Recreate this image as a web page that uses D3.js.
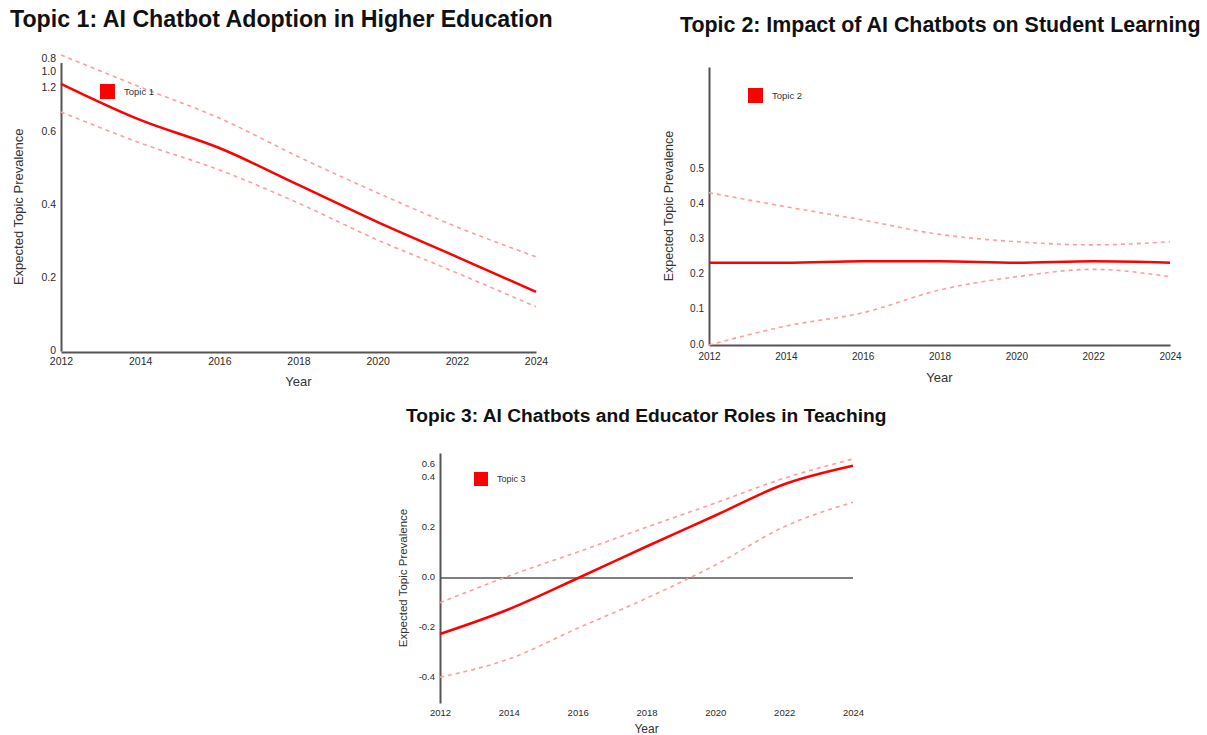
<!DOCTYPE html>
<html>
<head>
<meta charset="utf-8">
<script src="https://cdn.jsdelivr.net/npm/d3@7"></script>
<style>
  body { margin: 0; background: #fff; }
  text { font-family: "Liberation Sans", Arial, sans-serif; }
</style>
</head>
<body>
<script>
const W = 1207, H = 735;

// years on the x axis
const years = [2012, 2014, 2016, 2018, 2020, 2022, 2024];

// Topic 1: mean and 95% band
const topic1Mean  = [0.732, 0.633, 0.556, 0.455, 0.353, 0.258, 0.162];
const topic1Upper = [0.811, 0.723, 0.638, 0.532, 0.433, 0.340, 0.258];
const topic1Lower = [0.655, 0.570, 0.496, 0.405, 0.304, 0.214, 0.121];
// the y labels are printed out of order in the source picture
const topic1TickValues = [0, 0.2, 0.4, 0.6, 0.72, 0.764, 0.8];
const topic1TickLabels = ["0", "0.2", "0.4", "0.6", "1.2", "1.0", "0.8"];

// Topic 2
const topic2Mean  = [0.235, 0.235, 0.239, 0.239, 0.235, 0.239, 0.235];
const topic2Upper = [0.435, 0.395, 0.357, 0.316, 0.295, 0.286, 0.295];
const topic2Lower = [0.000, 0.054, 0.092, 0.157, 0.195, 0.216, 0.195];
const topic2TickValues = [0, 0.1, 0.2, 0.3, 0.4, 0.5];
const topic2TickLabels = ["0.0", "0.1", "0.2", "0.3", "0.4", "0.5"];

// Topic 3
const topic3Mean  = [-0.224, -0.125, -0.001, 0.126, 0.250, 0.375, 0.449];
const topic3Upper = [-0.099, 0.008, 0.104, 0.203, 0.300, 0.399, 0.476];
const topic3Lower = [-0.397, -0.324, -0.201, -0.081, 0.052, 0.205, 0.303];
const topic3TickValues = [-0.4, -0.2, 0, 0.2, 0.4, 0.452];
const topic3TickLabels = ["-0.4", "-0.2", "0.0", "0.2", "0.4", "0.6"];

const svg = d3.select("body").append("svg")
    .attr("width", W).attr("height", H);

const panels = [
  {
    title: "Topic 1: AI Chatbot Adoption in Higher Education", titleX: 10, titleY: 27, titleSize: 23.2,
    name: "Topic 1", mean: topic1Mean, upper: topic1Upper, lower: topic1Lower,
    tickValues: topic1TickValues, tickLabels: topic1TickLabels,
    x0: 61, x1: 536, yDomain: [0, 0.79], yRange: [351, 62.6],
    xAxisY: 352, xLabelGap: 10, xFont: 10.5, yFont: 10.5, yLabelGap: 5,
    yTitleX: 18, yTitleSize: 13, xTitleY: 386, xTitleSize: 13,
    legendX: 100, legendY: 84, legendSize: 15, legendFont: 9.5,
    zeroLine: false
  },
  {
    title: "Topic 2: Impact of AI Chatbots on Student Learning", titleX: 680, titleY: 32, titleSize: 21.4,
    name: "Topic 2", mean: topic2Mean, upper: topic2Upper, lower: topic2Lower,
    tickValues: topic2TickValues, tickLabels: topic2TickLabels,
    x0: 709, x1: 1170, yDomain: [0, 0.794], yRange: [345, 67],
    xAxisY: 345, xLabelGap: 12, xFont: 10, yFont: 10, yLabelGap: 5,
    yTitleX: 669, yTitleSize: 12.5, xTitleY: 382, xTitleSize: 13,
    legendX: 748, legendY: 88, legendSize: 15, legendFont: 9.5,
    zeroLine: false
  },
  {
    title: "Topic 3: AI Chatbots and Educator Roles in Teaching", titleX: 406, titleY: 422, titleSize: 19.2,
    name: "Topic 3", mean: topic3Mean, upper: topic3Upper, lower: topic3Lower,
    tickValues: topic3TickValues, tickLabels: topic3TickLabels,
    x0: 440, x1: 853, yDomain: [-0.5, 0.5], yRange: [703, 453],
    xAxisY: 703, xLabelGap: 10, xFont: 9.5, yFont: 9.5, yLabelGap: 5,
    yTitleX: 403, yTitleSize: 11.5, xTitleY: 733, xTitleSize: 12,
    legendX: 474, legendY: 472, legendSize: 14, legendFont: 9,
    zeroLine: true
  }
];

panels.forEach(p => {
  const g = svg.append("g");

  const x = d3.scaleLinear().domain([2012, 2024]).range([p.x0, p.x1]);
  const y = d3.scaleLinear().domain(p.yDomain).range(p.yRange);

  g.append("text")
      .attr("x", p.titleX).attr("y", p.titleY)
      .attr("font-size", p.titleSize).attr("font-weight", "bold")
      .attr("fill", "#111")
      .text(p.title);

  // y axis
  const yAxis = d3.axisLeft(y)
      .tickValues(p.tickValues)
      .tickFormat((d, i) => p.tickLabels[i])
      .tickSize(0).tickSizeOuter(0).tickPadding(p.yLabelGap);
  const ya = g.append("g").attr("transform", `translate(${p.x0},0)`).call(yAxis);
  ya.select(".domain").attr("stroke", "#555").attr("stroke-width", 2);
  ya.selectAll("text").attr("font-size", p.yFont).attr("fill", "#2a2a2a")
      .attr("font-family", "Liberation Sans, Arial, sans-serif").attr("dy", "0.2em");

  // x axis
  const xAxis = d3.axisBottom(x)
      .tickValues(years)
      .tickFormat(d3.format("d"))
      .tickSize(0).tickSizeOuter(0).tickPadding(p.xLabelGap - 4);
  const xa = g.append("g").attr("transform", `translate(0,${p.xAxisY})`).call(xAxis);
  if (p.zeroLine) {
    xa.select(".domain").remove();
  } else {
    xa.select(".domain").attr("stroke", "#555").attr("stroke-width", 2);
  }
  xa.selectAll("text").attr("font-size", p.xFont).attr("fill", "#2a2a2a")
      .attr("font-family", "Liberation Sans, Arial, sans-serif");

  if (p.zeroLine) {
    g.append("line")
        .attr("x1", x(2012)).attr("x2", x(2024))
        .attr("y1", y(0)).attr("y2", y(0))
        .attr("stroke", "#555").attr("stroke-width", 1.6);
  }

  // axis titles
  g.append("text")
      .attr("x", (p.x0 + p.x1) / 2).attr("y", p.xTitleY)
      .attr("text-anchor", "middle")
      .attr("font-size", p.xTitleSize).attr("fill", "#333")
      .text("Year");
  const midY = (p.yRange[0] + p.yRange[1]) / 2;
  g.append("text")
      .attr("transform", `translate(${p.yTitleX},${midY}) rotate(-90)`)
      .attr("text-anchor", "middle")
      .attr("dy", "0.35em")
      .attr("font-size", p.yTitleSize).attr("fill", "#333")
      .text("Expected Topic Prevalence");

  // lines
  const line = d3.line()
      .x((d, i) => x(years[i]))
      .y(d => y(d))
      .curve(d3.curveMonotoneX);

  [p.upper, p.lower].forEach(band => {
    g.append("path")
        .attr("d", line(band))
        .attr("fill", "none")
        .attr("stroke", "#ff9c9c")
        .attr("stroke-width", 1.6)
        .attr("stroke-dasharray", "4,4");
  });
  g.append("path")
      .attr("d", line(p.mean))
      .attr("fill", "none")
      .attr("stroke", "#ff0000")
      .attr("stroke-width", 2.5);

  // legend
  g.append("rect")
      .attr("x", p.legendX).attr("y", p.legendY)
      .attr("width", p.legendSize).attr("height", p.legendSize)
      .attr("fill", "#ff0000");
  g.append("text")
      .attr("x", p.legendX + p.legendSize + 9)
      .attr("y", p.legendY + p.legendSize / 2)
      .attr("dy", "0.35em")
      .attr("font-size", p.legendFont).attr("fill", "#333")
      .text(p.name);
});
</script>
</body>
</html>
